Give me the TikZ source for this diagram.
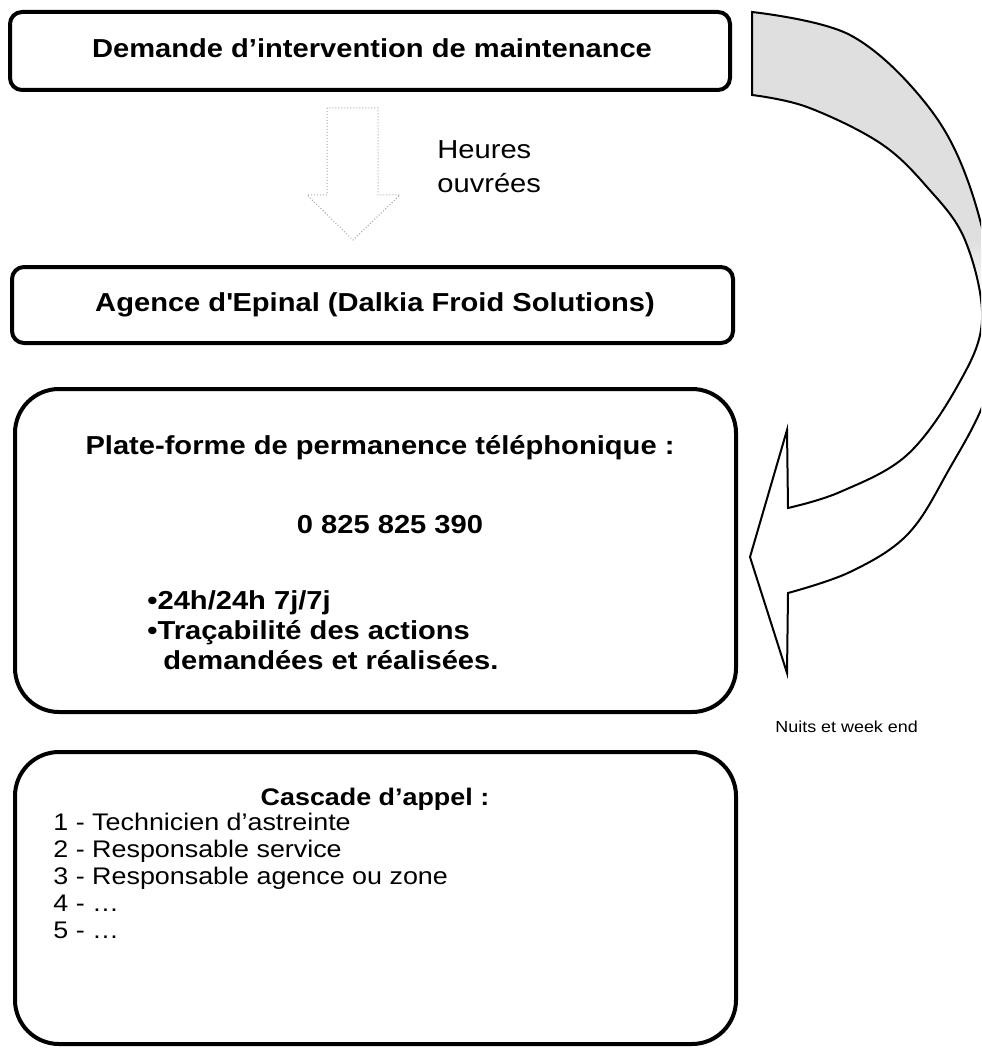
\documentclass[tikz,border=0pt]{standalone}
\usepackage{fontspec}
\setmainfont[FakeStretch=1.12]{Liberation Sans}
\begin{document}
\begin{tikzpicture}[x=0.5pt,y=-0.5pt,
  boxline/.style={draw=black, line width=2pt},
  sbox/.style={boxline, rounded corners=6pt},
  bbox/.style={boxline, rounded corners=22pt},
  txt/.style={inner sep=0pt, font=\fontsize{13}{15}\selectfont},
  btxt/.style={txt, font=\fontsize{13}{15}\selectfont\bfseries},
  ltxt/.style={inner sep=0pt, font=\fontsize{12}{13.5}\selectfont},
  blockarrow/.style={draw=gray!70, densely dotted, line width=0.5pt},
  curved/.style={draw=black, line width=1pt}
]
\useasboundingbox (0,0) rectangle (981,1048);

% boxes
\draw[sbox] (10,12) rectangle (730,90);
\node[btxt] (b1) at (372,48) {Demande d’intervention de maintenance};

\draw[sbox] (12,267) rectangle (733,343);
\node[btxt] (b2) at (375,305) {Agence d\textquotesingle Epinal (Dalkia Froid Solutions)};

\draw[bbox] (15,389) rectangle (736,712);
\node[btxt] (b3t) at (380,448) {Plate-forme de permanence téléphonique :};
\node[btxt] (b3n) at (390,525) {0 825 825 390};
\node[btxt, anchor=west, align=left] (b3b) at (147,630) {•24h/24h 7j/7j\\[0pt]•Traçabilité des actions\\[0pt]\hspace{8pt}demandées et réalisées.};

\draw[bbox] (15,752) rectangle (736,1044);
\node[ltxt, font=\fontsize{12}{13.5}\selectfont\bfseries] (b4t) at (375,799) {Cascade d’appel :};
\node[ltxt, anchor=north west, align=left] (b4l) at (53,813) {1 - Technicien d’astreinte\\2 - Responsable service\\3 - Responsable agence ou zone\\4 - \ldots\\5 - \ldots};

% down arrow (heures ouvrees)
\draw[blockarrow] (327,108) -- (327,195) -- (307,195) -- (353,240) -- (400,195) -- (378,195) -- (378,108) -- cycle;
\node[txt, anchor=west, align=left] (ho) at (437,167) {Heures\\[2pt]ouvrées};

% curved arrow (nuits et week end)
\begin{scope}
\clip (0,0) rectangle (981,1048);
\def\arrowpath{(752,12) -- plot[smooth, tension=0.6] coordinates {(752,12) (850,35) (927,105) (970,187) (995,300) (988,390) (947,473) (907,535) (850,572) (788,593)} -- (787,673) -- (750,557) -- (787,430) -- plot[smooth, tension=0.6] coordinates {(788,508) (840,492) (907,455) (958,385) (982,320) (965,240) (927,187) (880,143) (807,107) (752,95)} -- cycle}
\begin{scope}
\clip \arrowpath;
\fill[gray!25] (740,0) rectangle (981,240);
\shade[top color=gray!25, bottom color=white] (740,240) rectangle (981,300);
\end{scope}
\draw[curved] \arrowpath;
\end{scope}
\node[txt, font=\fontsize{8}{10}\selectfont, anchor=west] (nw) at (775,727) {Nuits et week end};
\end{tikzpicture}
\end{document}
